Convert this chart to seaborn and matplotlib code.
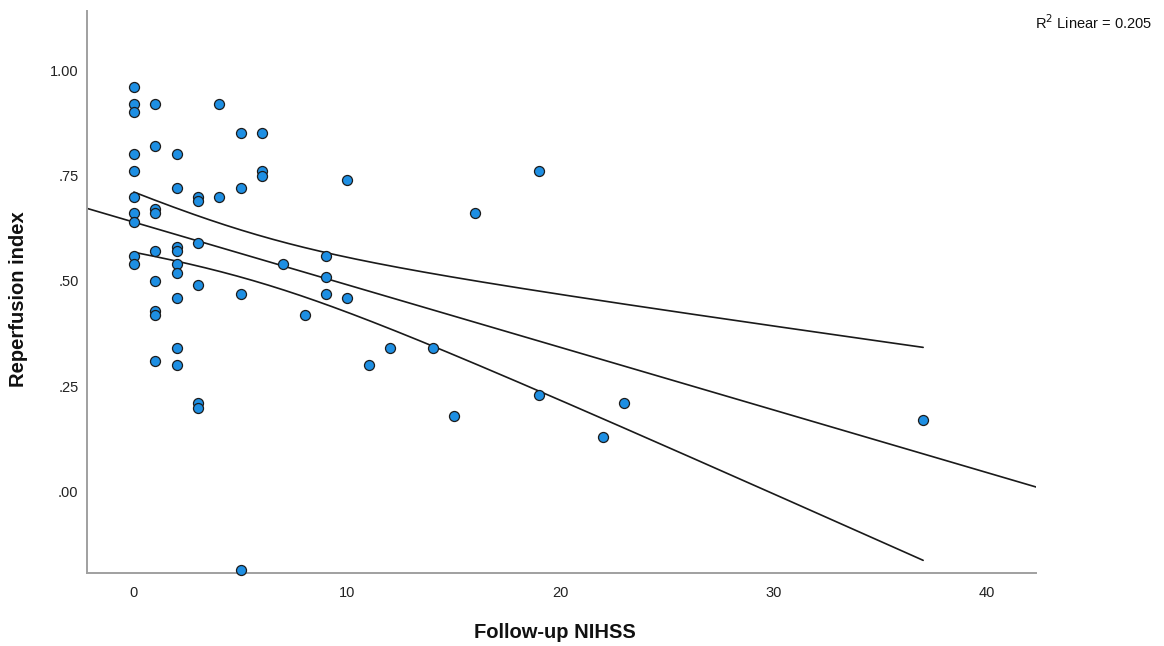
import numpy as np
import pandas as pd
import matplotlib
matplotlib.use("Agg")
import matplotlib.pyplot as plt
import seaborn as sns

# Follow-up NIHSS score per patient and the matching reperfusion index
nihss = [
    0, 0, 0, 0, 0, 0, 0, 0, 0, 0,
    1, 1, 1, 1, 1, 1, 1, 1, 1,
    2, 2, 2, 2, 2, 2, 2, 2, 2,
    3, 3, 3, 3, 3, 3,
    4, 4,
    5, 5, 5, 5,
    6, 6, 6,
    7, 8,
    9, 9, 9,
    10, 10,
    11, 12, 14, 15, 16,
    19, 19,
    22, 23, 37,
]
reperfusion = [
    0.96, 0.92, 0.90, 0.80, 0.76, 0.70, 0.66, 0.64, 0.56, 0.54,
    0.92, 0.82, 0.67, 0.66, 0.57, 0.50, 0.43, 0.42, 0.31,
    0.80, 0.72, 0.58, 0.57, 0.54, 0.52, 0.46, 0.34, 0.30,
    0.70, 0.69, 0.59, 0.49, 0.21, 0.20,
    0.92, 0.70,
    0.85, 0.72, 0.47, -0.185,
    0.85, 0.76, 0.75,
    0.54, 0.42,
    0.56, 0.51, 0.47,
    0.74, 0.46,
    0.30, 0.34, 0.34, 0.18, 0.66,
    0.76, 0.23,
    0.13, 0.21, 0.17,
]
r2_text = "R$^2$ Linear = 0.205"

x_ticks = [0, 10, 20, 30, 40]
y_ticks = [0.0, 0.25, 0.50, 0.75, 1.00]
y_tick_labels = [".00", ".25", ".50", ".75", "1.00"]

df = pd.DataFrame({"Follow-up NIHSS": nihss, "Reperfusion index": reperfusion})

sns.set_theme(style="white")
plt.rcParams["font.family"] = ["Liberation Sans", "DejaVu Sans"]

fig = plt.figure(figsize=(11.64, 6.46), dpi=100)
ax = fig.add_axes([0.0747, 0.1125, 0.8155, 0.8705])

xlim = (-2.2, 42.3)
ylim = (-0.193, 1.140)
ax.set_xlim(*xlim)
ax.set_ylim(*ylim)

# Least-squares fit with 95% confidence band for the mean
x = np.asarray(nihss, dtype=float)
y = np.asarray(reperfusion, dtype=float)
n = len(x)
slope, intercept = np.polyfit(x, y, 1)
resid = y - (intercept + slope * x)
s = np.sqrt(np.sum(resid ** 2) / (n - 2))
sxx = np.sum((x - x.mean()) ** 2)
t_crit = 2.0017  # two-sided 95%, df = 58

x_full = np.linspace(xlim[0], xlim[1], 200)
ax.plot(x_full, intercept + slope * x_full, color="#1a1a1a", lw=1.2, zorder=2)

x_band = np.linspace(x.min(), x.max(), 200)
fit_band = intercept + slope * x_band
half = t_crit * s * np.sqrt(1.0 / n + (x_band - x.mean()) ** 2 / sxx)
ax.plot(x_band, fit_band + half, color="#1a1a1a", lw=1.2, zorder=2)
ax.plot(x_band, fit_band - half, color="#1a1a1a", lw=1.2, zorder=2)

sns.scatterplot(
    data=df, x="Follow-up NIHSS", y="Reperfusion index", ax=ax,
    s=52, color="#1e8fe3", edgecolor="#1c1c1c", linewidth=0.9,
    zorder=3, clip_on=False,
)

ax.set_xticks(x_ticks)
ax.set_xticklabels([str(t) for t in x_ticks])
ax.set_yticks(y_ticks)
ax.set_yticklabels(y_tick_labels)
ax.tick_params(axis="both", length=0, labelsize=10.5, colors="#222222")
ax.tick_params(axis="x", pad=9)
ax.tick_params(axis="y", pad=6)

for side in ("top", "right"):
    ax.spines[side].set_visible(False)
for side in ("left", "bottom"):
    ax.spines[side].set_color("#a0a0a0")
    ax.spines[side].set_linewidth(1.4)

ax.set_xlabel("Follow-up NIHSS", fontsize=14.5, fontweight="bold", color="#111111")
ax.set_ylabel("Reperfusion index", fontsize=14.5, fontweight="bold", color="#111111")
ax.xaxis.set_label_coords(0.493, -0.088)
ax.yaxis.set_label_coords(-0.062, 0.488)

fig.text(0.9895, 0.965, r2_text, ha="right", va="center", fontsize=10.5, color="#111111")

fig.savefig("out.png", dpi=100, facecolor="white")
